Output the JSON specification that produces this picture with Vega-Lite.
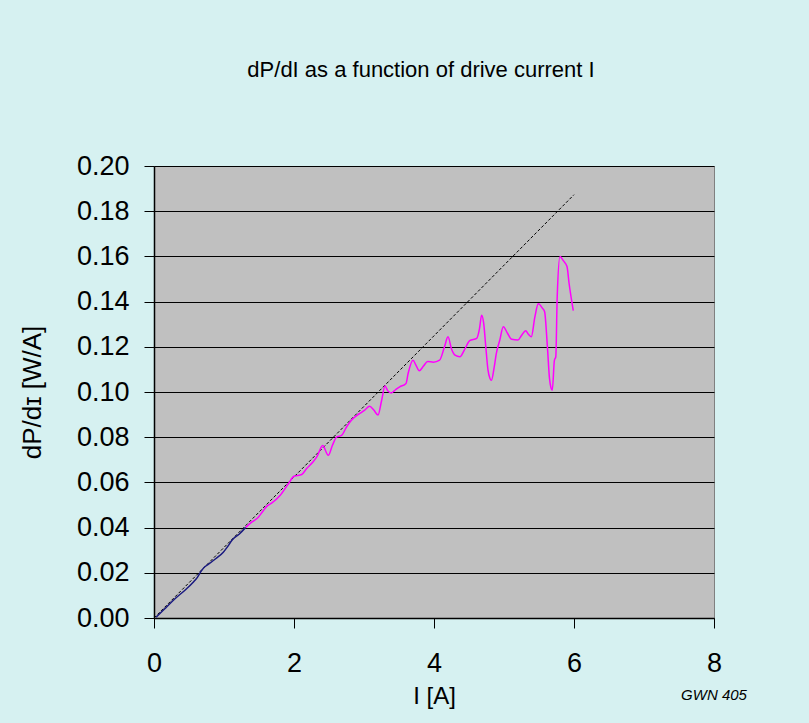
{
  "$schema": "https://vega.github.io/schema/vega-lite/v6.json",
  "width": 560,
  "height": 452,
  "autosize": {"type": "none"},
  "padding": {"left": 154, "top": 166, "right": 95, "bottom": 105},
  "background": "#d6f1f1",
  "title": {
    "text": "dP/dI as a function of drive current I",
    "fontSize": 22,
    "font": "Liberation Sans",
    "fontWeight": "normal",
    "color": "#000000",
    "anchor": "middle",
    "frame": "group",
    "dx": -13,
    "offset": 70
  },
  "config": {
    "view": {"fill": "#c0c0c0", "stroke": "#808080", "strokeWidth": 1},
    "axis": {
      "labelFont": "Liberation Sans",
      "titleFont": "Liberation Sans",
      "labelColor": "#000000",
      "titleColor": "#000000",
      "titleFontWeight": "normal",
      "domainColor": "#000000",
      "tickColor": "#000000",
      "tickSize": 10,
      "domainWidth": 1.5,
      "tickWidth": 1,
      "labelFlush": false,
      "labelOverlap": false
    }
  },
  "datasets": {
    "fit": [
      {"I": 0.0, "dPdI": 0.0},
      {"I": 6.0, "dPdI": 0.1873}
    ],
    "measured": [
      {"I": 0.03, "dPdI": 0.0003, "series": "low"},
      {"I": 0.15, "dPdI": 0.004, "series": "low"},
      {"I": 0.32, "dPdI": 0.0091, "series": "low"},
      {"I": 0.45, "dPdI": 0.0125, "series": "low"},
      {"I": 0.56, "dPdI": 0.0158, "series": "low"},
      {"I": 0.62, "dPdI": 0.018, "series": "low"},
      {"I": 0.68, "dPdI": 0.021, "series": "low"},
      {"I": 0.73, "dPdI": 0.0228, "series": "low"},
      {"I": 0.77, "dPdI": 0.0236, "series": "low"},
      {"I": 0.88, "dPdI": 0.0262, "series": "low"},
      {"I": 0.99, "dPdI": 0.0291, "series": "low"},
      {"I": 1.05, "dPdI": 0.0315, "series": "low"},
      {"I": 1.12, "dPdI": 0.0346, "series": "low"},
      {"I": 1.22, "dPdI": 0.0372, "series": "low"},
      {"I": 1.31, "dPdI": 0.0401, "series": "low"},
      {"I": 1.31, "dPdI": 0.0401, "series": "high"},
      {"I": 1.40, "dPdI": 0.0425, "series": "high"},
      {"I": 1.49, "dPdI": 0.0446, "series": "high"},
      {"I": 1.55, "dPdI": 0.047, "series": "high"},
      {"I": 1.61, "dPdI": 0.0494, "series": "high"},
      {"I": 1.68, "dPdI": 0.0508, "series": "high"},
      {"I": 1.80, "dPdI": 0.0542, "series": "high"},
      {"I": 1.92, "dPdI": 0.0594, "series": "high"},
      {"I": 2.00, "dPdI": 0.0627, "series": "high"},
      {"I": 2.11, "dPdI": 0.0635, "series": "high"},
      {"I": 2.18, "dPdI": 0.0661, "series": "high"},
      {"I": 2.27, "dPdI": 0.069, "series": "high"},
      {"I": 2.33, "dPdI": 0.0715, "series": "high"},
      {"I": 2.41, "dPdI": 0.0763, "series": "high"},
      {"I": 2.49, "dPdI": 0.072, "series": "high"},
      {"I": 2.55, "dPdI": 0.0765, "series": "high"},
      {"I": 2.61, "dPdI": 0.0801, "series": "high"},
      {"I": 2.68, "dPdI": 0.0808, "series": "high"},
      {"I": 2.75, "dPdI": 0.0845, "series": "high"},
      {"I": 2.82, "dPdI": 0.0875, "series": "high"},
      {"I": 2.94, "dPdI": 0.0905, "series": "high"},
      {"I": 3.01, "dPdI": 0.092, "series": "high"},
      {"I": 3.08, "dPdI": 0.0937, "series": "high"},
      {"I": 3.14, "dPdI": 0.092, "series": "high"},
      {"I": 3.20, "dPdI": 0.0898, "series": "high"},
      {"I": 3.25, "dPdI": 0.096, "series": "high"},
      {"I": 3.30, "dPdI": 0.1026, "series": "high"},
      {"I": 3.34, "dPdI": 0.1005, "series": "high"},
      {"I": 3.39, "dPdI": 0.0996, "series": "high"},
      {"I": 3.45, "dPdI": 0.101, "series": "high"},
      {"I": 3.51, "dPdI": 0.1023, "series": "high"},
      {"I": 3.60, "dPdI": 0.1038, "series": "high"},
      {"I": 3.63, "dPdI": 0.1082, "series": "high"},
      {"I": 3.70, "dPdI": 0.1141, "series": "high"},
      {"I": 3.74, "dPdI": 0.112, "series": "high"},
      {"I": 3.79, "dPdI": 0.1094, "series": "high"},
      {"I": 3.85, "dPdI": 0.1115, "series": "high"},
      {"I": 3.91, "dPdI": 0.1135, "series": "high"},
      {"I": 3.99, "dPdI": 0.1132, "series": "high"},
      {"I": 4.08, "dPdI": 0.1141, "series": "high"},
      {"I": 4.15, "dPdI": 0.120, "series": "high"},
      {"I": 4.20, "dPdI": 0.1244, "series": "high"},
      {"I": 4.25, "dPdI": 0.119, "series": "high"},
      {"I": 4.30, "dPdI": 0.1163, "series": "high"},
      {"I": 4.37, "dPdI": 0.1156, "series": "high"},
      {"I": 4.44, "dPdI": 0.119, "series": "high"},
      {"I": 4.51, "dPdI": 0.1227, "series": "high"},
      {"I": 4.61, "dPdI": 0.1237, "series": "high"},
      {"I": 4.65, "dPdI": 0.128, "series": "high"},
      {"I": 4.68, "dPdI": 0.134, "series": "high"},
      {"I": 4.71, "dPdI": 0.1304, "series": "high"},
      {"I": 4.74, "dPdI": 0.12, "series": "high"},
      {"I": 4.77, "dPdI": 0.11, "series": "high"},
      {"I": 4.80, "dPdI": 0.106, "series": "high"},
      {"I": 4.82, "dPdI": 0.1052, "series": "high"},
      {"I": 4.86, "dPdI": 0.111, "series": "high"},
      {"I": 4.89, "dPdI": 0.117, "series": "high"},
      {"I": 4.94, "dPdI": 0.123, "series": "high"},
      {"I": 4.99, "dPdI": 0.1289, "series": "high"},
      {"I": 5.05, "dPdI": 0.126, "series": "high"},
      {"I": 5.11, "dPdI": 0.1233, "series": "high"},
      {"I": 5.20, "dPdI": 0.123, "series": "high"},
      {"I": 5.25, "dPdI": 0.125, "series": "high"},
      {"I": 5.31, "dPdI": 0.1271, "series": "high"},
      {"I": 5.35, "dPdI": 0.1255, "series": "high"},
      {"I": 5.39, "dPdI": 0.1244, "series": "high"},
      {"I": 5.44, "dPdI": 0.133, "series": "high"},
      {"I": 5.49, "dPdI": 0.139, "series": "high"},
      {"I": 5.55, "dPdI": 0.137, "series": "high"},
      {"I": 5.58, "dPdI": 0.1355, "series": "high"},
      {"I": 5.62, "dPdI": 0.12, "series": "high"},
      {"I": 5.65, "dPdI": 0.106, "series": "high"},
      {"I": 5.67, "dPdI": 0.102, "series": "high"},
      {"I": 5.69, "dPdI": 0.1008, "series": "high"},
      {"I": 5.72, "dPdI": 0.114, "series": "high"},
      {"I": 5.74, "dPdI": 0.1156, "series": "high"},
      {"I": 5.76, "dPdI": 0.142, "series": "high"},
      {"I": 5.80, "dPdI": 0.160, "series": "high"},
      {"I": 5.85, "dPdI": 0.158, "series": "high"},
      {"I": 5.90, "dPdI": 0.1555, "series": "high"},
      {"I": 5.93, "dPdI": 0.148, "series": "high"},
      {"I": 5.99, "dPdI": 0.136, "series": "high"}
    ],
    "notes": [
      {"note": "GWN 405", "I": 8, "dPdI": -0.034}
    ]
  },
  "layer": [
    {
      "data": {"name": "fit"},
      "mark": {"type": "line", "color": "#000000", "strokeWidth": 1, "strokeDash": [3, 2]},
      "encoding": {
        "x": {
          "field": "I",
          "type": "quantitative",
          "scale": {"domain": [0, 8], "nice": false, "zero": false},
          "axis": {
            "title": "I [A]",
            "values": [0, 2, 4, 6, 8],
            "format": "d",
            "grid": false,
            "labelFontSize": 27,
            "labelPadding": 22,
            "titleFontSize": 24,
            "titlePadding": 8
          }
        },
        "y": {
          "field": "dPdI",
          "type": "quantitative",
          "scale": {"domain": [0, 0.2], "nice": false, "zero": false},
          "axis": {
            "title": "dP/dɪ [W/A]",
            "values": [0, 0.02, 0.04, 0.06, 0.08, 0.1, 0.12, 0.14, 0.16, 0.18, 0.2],
            "format": ".2f",
            "grid": true,
            "gridColor": "#000000",
            "gridOpacity": 1,
            "gridWidth": 1,
            "labelFontSize": 27,
            "labelPadding": 15,
            "titleFontSize": 26,
            "titlePadding": 31
          }
        }
      }
    },
    {
      "data": {"name": "measured"},
      "mark": {"type": "line", "strokeWidth": 1.5, "interpolate": "monotone"},
      "encoding": {
        "x": {"field": "I", "type": "quantitative"},
        "y": {"field": "dPdI", "type": "quantitative"},
        "color": {
          "field": "series",
          "type": "nominal",
          "scale": {"domain": ["low", "high"], "range": ["#1a1a80", "#ff00ff"]},
          "legend": null
        }
      }
    },
    {
      "data": {"name": "notes"},
      "mark": {"type": "text", "fontStyle": "italic", "fontSize": 15, "font": "Liberation Sans", "color": "#000000", "align": "center", "baseline": "middle", "clip": false},
      "encoding": {
        "x": {"field": "I", "type": "quantitative"},
        "y": {"field": "dPdI", "type": "quantitative"},
        "text": {"field": "note", "type": "nominal"}
      }
    }
  ]
}
